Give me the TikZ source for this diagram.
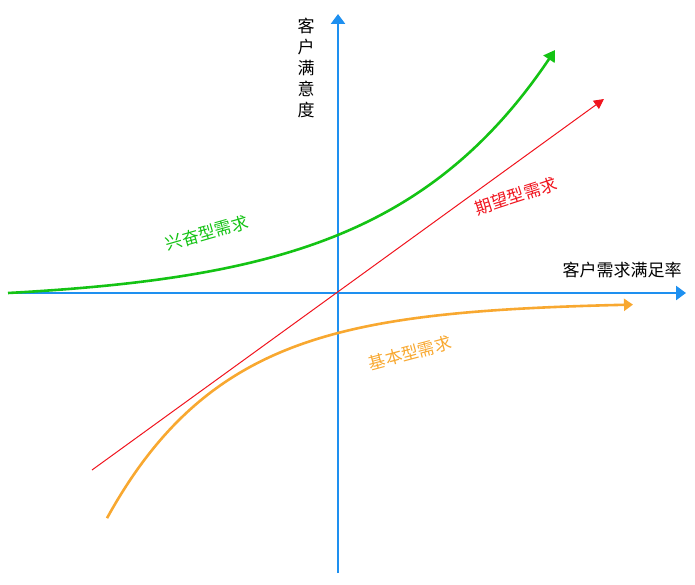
\documentclass[tikz,border=0pt]{standalone}
\usepackage{fontspec}
\setmainfont{Noto Sans CJK SC}
\usetikzlibrary{arrows.meta}
\definecolor{axisblue}{RGB}{30,144,240}
\definecolor{cgreen}{RGB}{20,195,20}
\definecolor{cred}{RGB}{240,20,30}
\definecolor{corange}{RGB}{248,168,48}
\tikzset{
  axisline/.style={axisblue, line width=2.6pt, -{Triangle[length=10pt,width=14pt]}},
  curveline/.style={line width=2.6pt},
  lbl/.style={font=\fontsize{17}{21}\selectfont, inner sep=0pt},
}
\begin{document}
\begin{tikzpicture}[x=1pt,y=-1pt]
\useasboundingbox (0,0) rectangle (695,585);
\coordinate (o) at (338,293);
\coordinate (xl) at (8,293);
\coordinate (xr) at (686,293);
\coordinate (yb) at (338,573);
\coordinate (yt) at (338,14);
\draw[axisline] (xl) -- (xr);
\draw[axisline] (yb) -- (yt);
% expected (linear)
\coordinate (rs) at (92,470);
\coordinate (re) at (604,99);
\draw[cred, line width=1pt, -{Triangle[length=10pt,width=10pt]}] (rs) -- (re);
% excitement
\draw[cgreen, curveline, -{Triangle[length=11pt,width=13pt]}]
  plot[domain=8:555, samples=120, smooth] (\x, {293 - 8.94*(exp(0.0061*(\x-8))-1)});
% basic
\draw[corange, curveline, -{Triangle[length=9pt,width=12pt]}]
  plot[domain=107:633, samples=120, smooth] (\x, {302 + 31*exp(-0.0084*(\x-338))});
% labels
\node[lbl, align=center] (ylab) at (306,68) {客\\户\\满\\意\\度};
\node[lbl] (xlab) at (622,270) {客户需求满足率};
\node[lbl, text=cgreen, rotate=16] (excite) at (207,233) {兴奋型需求};
\node[lbl, text=cred, rotate=18] (expect) at (516,196) {期望型需求};
\node[lbl, text=corange, rotate=15] (basic) at (410,353) {基本型需求};
\end{tikzpicture}
\end{document}
